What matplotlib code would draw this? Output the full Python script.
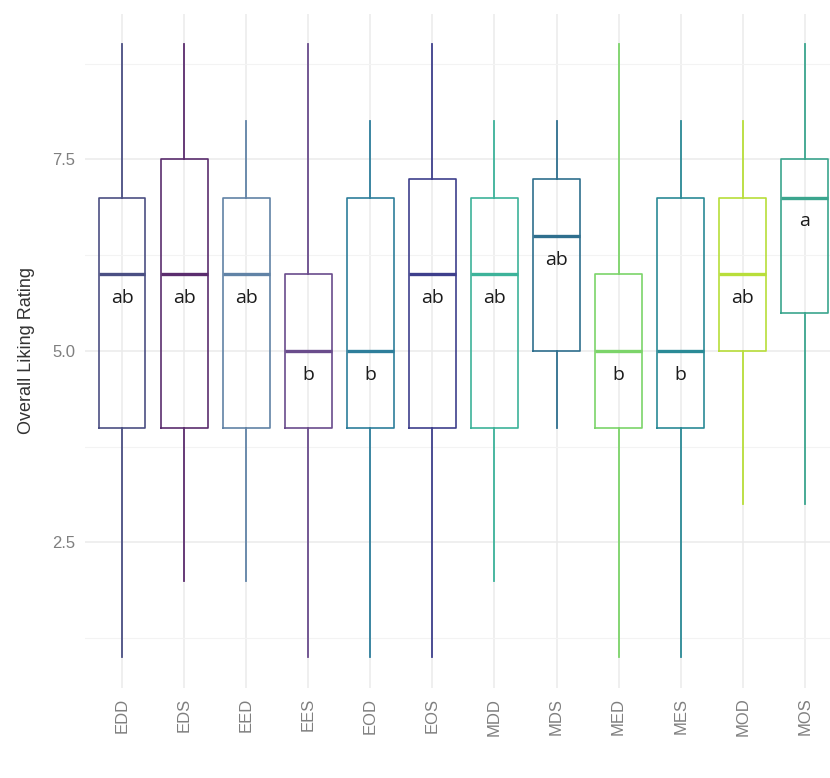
import matplotlib.pyplot as plt

# Summary statistics per treatment (rating scale 1-9)
groups = ['EDD', 'EDS', 'EED', 'EES', 'EOD', 'EOS',
          'MDD', 'MDS', 'MED', 'MES', 'MOD', 'MOS']
whisk_low = [1, 2, 2, 1, 1, 1, 2, 4, 1, 1, 3, 3]
q1 = [4, 4, 4, 4, 4, 4, 4, 5, 4, 4, 5, 5.5]
median = [6, 6, 6, 5, 5, 6, 6, 6.5, 5, 5, 6, 7]
q3 = [7, 7.5, 7, 6, 7, 7.25, 7, 7.25, 6, 7, 7, 7.5]
whisk_high = [9, 9, 8, 9, 8, 9, 8, 8, 9, 8, 8, 9]
letters = ['ab', 'ab', 'ab', 'b', 'b', 'ab', 'ab', 'ab', 'b', 'b', 'ab', 'a']
colors = ['#4b4f83', '#5b2d6e', '#6183a6', '#6a4c8c', '#2e7e9b', '#3e3f8c',
          '#3db39a', '#2f6f8e', '#7cd46a', '#2a8a96', '#b8de3a', '#3ba58e']

stats = []
for i, g in enumerate(groups):
    stats.append({'label': g, 'whislo': whisk_low[i], 'q1': q1[i],
                  'med': median[i], 'q3': q3[i], 'whishi': whisk_high[i]})

fig = plt.figure(figsize=(8.3, 7.78), dpi=100)
ax = fig.add_axes([0.1024, 0.1157, 0.912, 0.8665])

pos = list(range(1, len(groups) + 1))
bp = ax.bxp(stats, positions=pos, widths=0.75, showcaps=False,
            showfliers=False, patch_artist=False)

for i, c in enumerate(colors):
    bp['boxes'][i].set_color(c)
    bp['boxes'][i].set_linewidth(1.2)
    bp['medians'][i].set_color(c)
    bp['medians'][i].set_linewidth(2.4)
    for w in bp['whiskers'][2 * i:2 * i + 2]:
        w.set_color(c)
        w.set_linewidth(1.3)

# significance letters just under each median
for i, lab in enumerate(letters):
    ax.text(pos[i], median[i] - 0.31, lab, ha='center', va='center',
            fontsize=14, family='Open Sans', color='#1a1a1a')

ax.set_xlim(0.4, len(groups) + 0.6)
ax.set_ylim(0.6, 9.4)
ax.set_yticks([2.5, 5.0, 7.5])
ax.set_yticklabels(['2.5', '5.0', '7.5'])
ax.set_yticks([1.25, 3.75, 6.25, 8.75], minor=True)
ax.set_xticks(pos)
ax.set_xticklabels(groups, rotation=90)

ax.grid(True, which='major', color='#ebebeb', linewidth=1.1)
ax.grid(True, which='minor', axis='y', color='#f3f3f3', linewidth=0.8)
ax.set_axisbelow(True)
for s in ax.spines.values():
    s.set_visible(False)
ax.tick_params(which='both', length=0)
ax.tick_params(axis='both', labelsize=12, labelcolor='#7f7f7f', pad=7)
for t in ax.get_xticklabels() + ax.get_yticklabels():
    t.set_family('Liberation Sans')

ax.set_ylabel('Overall Liking Rating', fontsize=13, color='#333333',
              family='Liberation Sans', labelpad=12)

fig.savefig('out.png', dpi=100)
